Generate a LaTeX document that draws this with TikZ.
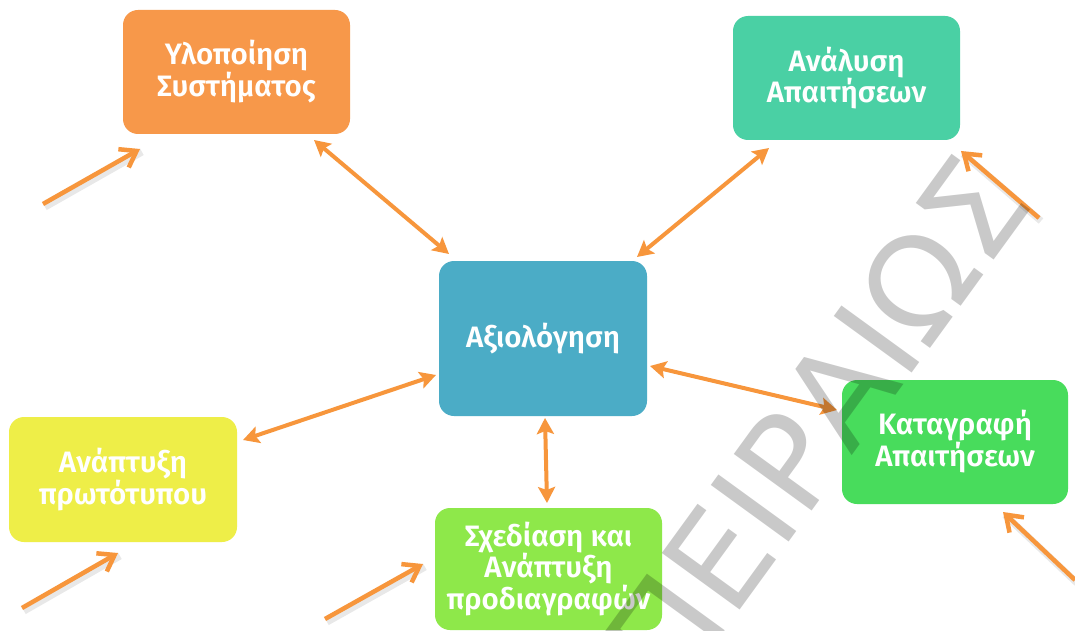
\documentclass[tikz,border=0pt]{standalone}
\usepackage{fontspec}
\setmainfont{Fira Sans}[BoldFont={Fira Sans SemiBold}]
\newfontfamily\wmfont{DejaVu Sans}
\usetikzlibrary{arrows.meta}
\definecolor{corange}{RGB}{247,152,74}
\definecolor{cteal}{RGB}{74,208,164}
\definecolor{cblue}{RGB}{75,172,198}
\definecolor{cyellow}{RGB}{238,238,72}
\definecolor{clgreen}{RGB}{142,232,74}
\definecolor{cgreen}{RGB}{72,220,92}
\definecolor{carrow}{RGB}{247,150,60}
\begin{document}
\begin{tikzpicture}[x=1pt,y=-1pt,
  box/.style={rounded corners=15pt, draw=none, text=white, align=center, inner sep=0pt,
    font=\fontsize{29.5}{28.5}\selectfont\bfseries},
  dbl/.style={draw=carrow, line width=4pt,
    {Stealth[length=16pt,width=17pt,inset=3pt]}-{Stealth[length=16pt,width=17pt,inset=3pt]}},
  sgl/.style={draw=carrow, line width=4.5pt, -{Straight Barb[length=15pt,width=21pt]}},
  sshadow/.style={draw=black, draw opacity=0.09, line width=7pt, transform canvas={shift={(2pt,-3pt)}}},
  wm/.style={rotate=54, anchor=base east, inner sep=0pt, text=black, text opacity=0.21,
    font=\wmfont\fontsize{132}{132}\selectfont}]
\useasboundingbox (0,0) rectangle (1075,631);
\fill[white] (0,0) rectangle (1075,631);
% boxes
\node[box, fill=corange, minimum width=227pt, minimum height=124pt] (impl) at (236.5,72) {Υλοποίηση\\Συστήματος};
\node[box, fill=cteal, minimum width=227pt, minimum height=124pt] (anal) at (846.5,78) {Ανάλυση\\Απαιτήσεων};
\node[box, fill=cblue, minimum width=208pt, minimum height=155pt] (eval) at (543,338.5) {Αξιολόγηση};
\node[box, fill=cyellow, minimum width=228pt, minimum height=125pt] (proto) at (123,479.5) {Ανάπτυξη\\πρωτότυπου};
\node[box, fill=clgreen, minimum width=227pt, minimum height=122pt] (design) at (548.5,569) {Σχεδίαση και\\Ανάπτυξη\\προδιαγραφών};
\node[box, fill=cgreen, minimum width=226pt, minimum height=124pt] (record) at (955,442) {Καταγραφή\\Απαιτήσεων};
% connector end points
\coordinate (a1) at (314,140); \coordinate (a2) at (449,254);
\coordinate (b1) at (769,148); \coordinate (b2) at (637,257);
\coordinate (c1) at (650,366); \coordinate (c2) at (837,410);
\coordinate (d1) at (436,375); \coordinate (d2) at (243,440);
\coordinate (e1) at (545,418); \coordinate (e2) at (547,503);
\coordinate (f1) at (43,204);  \coordinate (f2) at (140,149);
\coordinate (g1) at (1039,218); \coordinate (g2) at (961,151);
\coordinate (h1) at (22,608);  \coordinate (h2) at (118,553);
\coordinate (i1) at (325,619); \coordinate (i2) at (423,564);
\coordinate (j1) at (1075,580); \coordinate (j2) at (1003,512);
% double arrows
\draw[dbl] (a1) -- (a2);
\draw[dbl] (b1) -- (b2);
\draw[dbl] (c1) -- (c2);
\draw[dbl] (d1) -- (d2);
\draw[dbl] (e1) -- (e2);
% single arrows with shadow
\foreach \p in {f,g,h,i,j}{
  \draw[sshadow] (\p1) -- (\p2);
  \draw[sgl] (\p1) -- (\p2);
}
% watermark
\node[wm] (wmark) at (1036,203) {ΠΕΙΡΑΙΩΣ};
\end{tikzpicture}
\end{document}
